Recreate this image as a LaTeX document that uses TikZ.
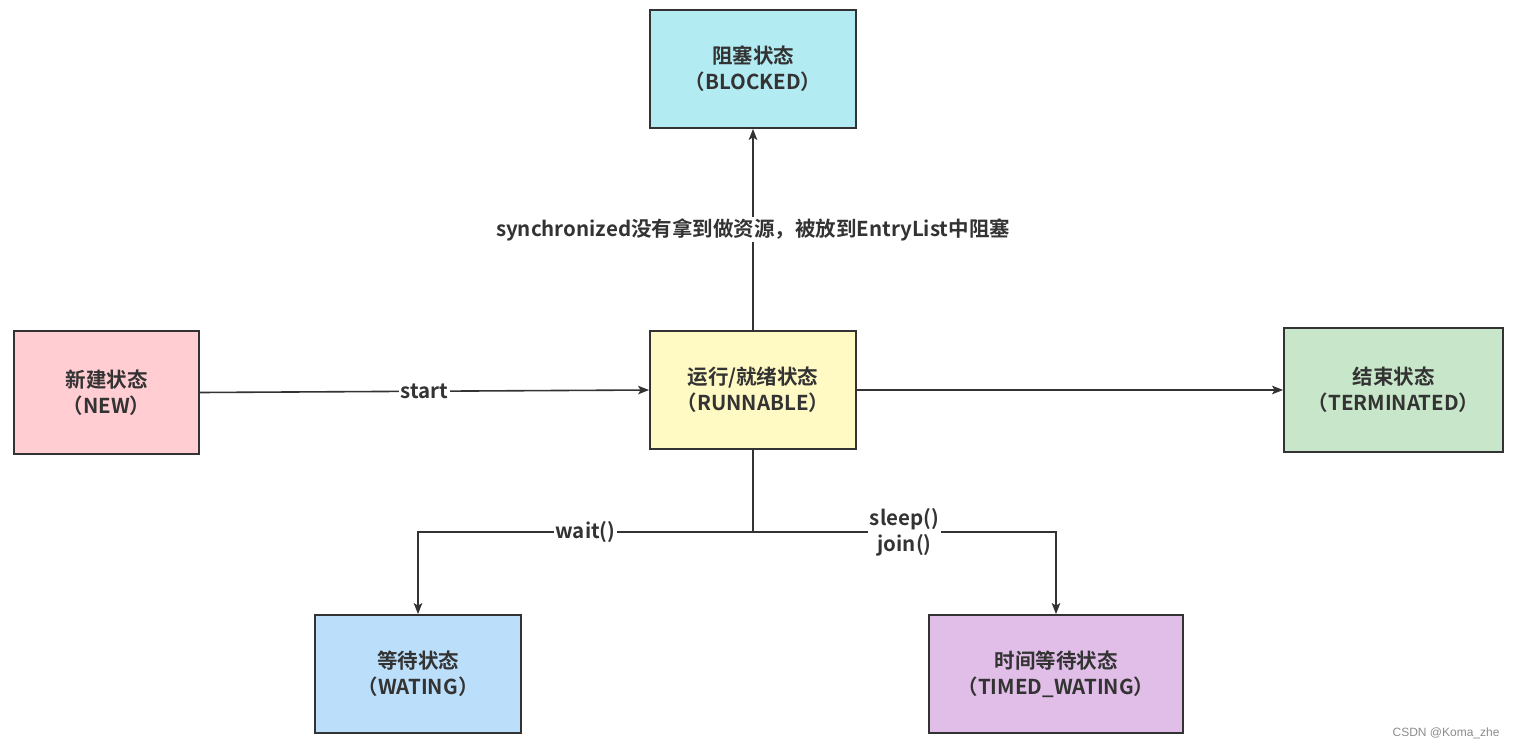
\documentclass[tikz,border=0pt]{standalone}
\usepackage{fontspec}
\setmainfont{Noto Sans CJK SC}[BoldFont=* Bold]
\setsansfont{Liberation Sans}
\usetikzlibrary{arrows.meta}
\definecolor{ink}{HTML}{333333}
\definecolor{cBlocked}{HTML}{B2EBF2}
\definecolor{cNew}{HTML}{FFCDD2}
\definecolor{cRun}{HTML}{FFF9C4}
\definecolor{cTerm}{HTML}{C8E6C9}
\definecolor{cWait}{HTML}{BBDEFB}
\definecolor{cTimed}{HTML}{E1BEE7}
\tikzset{
  statebox/.style={draw=ink, line width=1.8pt, align=center, text=ink,
    font=\fontsize{20.5}{26}\selectfont\bfseries, inner sep=0pt},
  conn/.style={draw=ink, line width=1.6pt},
  arr/.style={conn, -{Stealth[length=11pt,width=8.5pt,inset=2.5pt]}},
  lbl/.style={fill=white, text=ink, inner sep=1.5pt, align=center,
    font=\fontsize{20.5}{26}\selectfont\bfseries},
}
\begin{document}
\begin{tikzpicture}[x=1pt,y=-1pt]
\useasboundingbox (0,0) rectangle (1517,749);
\node[statebox, fill=cBlocked, minimum width=206pt, minimum height=118pt] (blocked) at (753,69) {阻塞状态\\（BLOCKED）};
\node[statebox, fill=cNew, minimum width=185pt, minimum height=123pt] (new) at (106.5,392.5) {新建状态\\（NEW）};
\node[statebox, fill=cRun, minimum width=206pt, minimum height=118pt] (run) at (753,390) {运行/就绪状态\\（RUNNABLE）};
\node[statebox, fill=cTerm, minimum width=219pt, minimum height=124pt] (term) at (1393.5,390) {结束状态\\（TERMINATED）};
\node[statebox, fill=cWait, minimum width=206pt, minimum height=118pt] (wait) at (418,674) {等待状态\\（WATING）};
\node[statebox, fill=cTimed, minimum width=254pt, minimum height=118pt] (timed) at (1056,674) {时间等待状态\\（TIMED\_WATING）};
\coordinate (j) at (753,532);

\draw[arr] (new.east) -- node[lbl] {start} (run.west);
\draw[arr] (run.north) -- node[lbl] {synchronized没有拿到做资源，被放到EntryList中阻塞} (blocked.south);
\draw[arr] (run.east) -- (term.west);
\draw[conn] (run.south) -- (j);
\draw[arr] (j) -| node[lbl, pos=0.25] {wait()} (wait.north);
\draw[arr] (j) -| node[lbl, pos=0.25] {sleep()\\join()} (timed.north);

\node[font=\sffamily\fontsize{12}{14}\selectfont, text=black!45, anchor=east] (wm) at (1503,733) {CSDN @Koma\_zhe};
\end{tikzpicture}
\end{document}
